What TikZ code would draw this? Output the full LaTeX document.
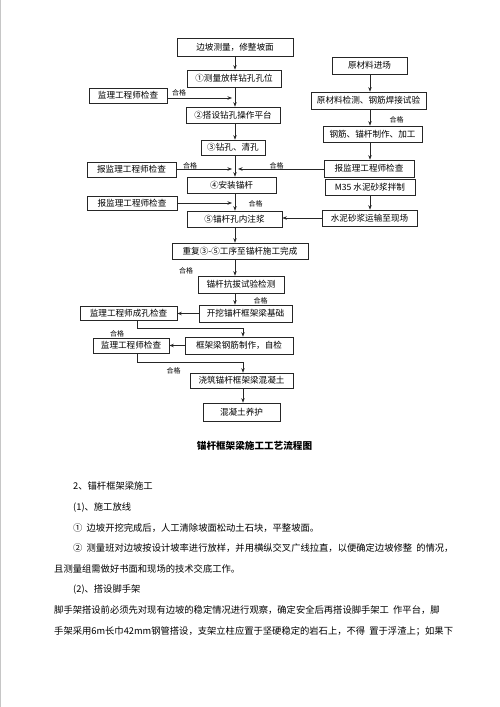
\documentclass[tikz,border=0pt]{standalone}
\usepackage{fontspec}
\setmainfont{Noto Sans CJK SC}
\usetikzlibrary{arrows.meta}
\usetikzlibrary{calc}

\begin{document}
\begin{tikzpicture}[x=1pt,y=-1pt]
        \useasboundingbox (0,0) rectangle (500,707);
        \draw[gray!45,line width=1pt] (0.5,0) -- (0.5,707);

        % flow chart boxes
        \begin{scope}[every node/.style={draw=black!85,line width=0.7pt,inner sep=0pt,
                minimum height=16pt,font=\fontsize{8.6}{10}\selectfont}]
            \node[minimum width=116pt,minimum height=18pt] (b0) at (235,47) {边坡测量，修整坡面};
            \node[minimum width=94pt,minimum height=17pt] (b1) at (234,78.5) {①测量放样钻孔孔位};
            \node[minimum width=78pt,minimum height=15pt] (c1) at (128,95.5) {监理工程师检查};
            \node[minimum width=94pt] (b2) at (233,115) {②搭设钻孔操作平台};
            \node[minimum width=64pt,minimum height=15pt] (b3) at (233,147.5) {③钻孔、清孔};
            \node[minimum width=75pt,minimum height=17pt] (r0) at (369.5,65.5) {原材料进场};
            \node[minimum width=115pt,minimum height=17pt] (r1) at (368.5,100.5) {原材料检测、钢筋焊接试验};
            \node[minimum width=99pt] (r2) at (372.5,134) {钢筋、锚杆制作、加工};
            \node[minimum width=90pt,minimum height=17pt] (r3) at (369,168.5) {报监理工程师检查};
            \node[minimum width=90pt] (r4) at (370,187) {M35 水泥砂浆拌制};
            \node[minimum width=95pt] (r5) at (369.5,218) {水泥砂浆运输至现场};
            \node[minimum width=89pt,minimum height=15pt] (c2) at (131.5,169.5) {报监理工程师检查};
            \node[minimum width=89pt] (b4) at (231.5,185) {④安装锚杆};
            \node[minimum width=90pt,minimum height=14pt] (c3) at (132,203.5) {报监理工程师检查};
            \node[minimum width=95pt] (b5) at (234.5,219) {⑤锚杆孔内注浆};
            \node[minimum width=136pt] (b6) at (240,251) {重复③-⑤工序至锚杆施工完成};
            \node[minimum width=86pt,minimum height=17pt] (b7) at (241,284.5) {锚杆抗拔试验检测};
            \node[minimum width=93pt,minimum height=17pt] (b8) at (245.5,313.5) {开挖锚杆框架梁基础};
            \node[minimum width=97pt,minimum height=14pt] (c4) at (128.5,313.5) {监理工程师成孔检查};
            \node[minimum width=108pt,minimum height=17pt] (b9) at (239,345.5) {框架梁钢筋制作，自检};
            \node[minimum width=76pt,minimum height=15pt] (c5) at (131,345.5) {监理工程师检查};
            \node[minimum width=103pt,minimum height=15pt] (b10) at (241.5,380.5) {浇筑锚杆框架梁混凝土};
            \node[minimum width=77pt,minimum height=18pt] (b11) at (241.5,412) {混凝土养护};
        \end{scope}

        \coordinate (ax) at (235,0);
        \coordinate (axr) at (370,0);
        \coordinate (ax2) at (243,0);
        \coordinate (j1) at (232,98);
        \coordinate (j2l) at (232,169);
        \coordinate (j2r) at (238,169);
        \coordinate (j3) at (232,203);
        \coordinate (k1) at (137,328);
        \coordinate (k2) at (137,362);

        % connectors
        \begin{scope}[>={Stealth[length=4.5pt,width=3.5pt]},line width=0.7pt,draw=black!85]
            \draw[->] (b0.south -| ax) -- (b1.north -| ax);
            \draw[->] (b1.south -| ax) -- (b2.north -| ax);
            \draw[->] (c1.east |- j1) -- (j1);
            \draw[->] (b2.south -| ax) -- (b3.north -| ax);
            \draw[->] (b3.south -| ax) -- (b4.north -| ax);
            \draw[->] (c2.east |- j2l) -- (j2l);
            \draw[->] (r3.west |- j2r) -- (j2r);
            \draw[->] (b4.south -| ax) -- (b5.north -| ax);
            \draw[->] (c3.east |- j3) -- (j3);
            \draw[->] (r0.south -| axr) -- (r1.north -| axr);
            \draw[->] (r1.south -| axr) -- (r2.north -| axr);
            \draw[->] (r2.south -| axr) -- (r3.north -| axr);
            \draw[->] (r4.south -| axr) -- (r5.north -| axr);
            \draw[->] (r5.west) -- (b5.east |- r5.west);
            \draw[->] (b5.south -| ax) -- (b6.north -| ax);
            \draw[->] (b6.south -| ax) -- (b7.north -| ax);
            \draw[->] (b7.south -| ax) -- (b8.north -| ax);
            \draw[->] (b8) -- (c4);
            \draw[->] (c4.south -| k1) -- (k1) -| (b9.north -| ax2);
            \draw[->] (b9) -- (c5);
            \draw[->] (c5.south -| k2) -- (k2) -| (b10.north -| ax2);
            \draw[->] (b10.south -| ax2) -- (b11.north -| ax2);
        \end{scope}

        % labels
        \begin{scope}[every node/.style={font=\fontsize{7}{8}\selectfont,inner sep=0pt}]
            \node (q1) at (179,93) {合格};
            \node (q2) at (396.5,119.5) {合格};
            \node (q3) at (190,165.5) {合格};
            \node (q4) at (276.5,165.5) {合格};
            \node (q5) at (255.5,204) {合格};
            \node (q6) at (186,271) {合格};
            \node (q7) at (260.5,301) {合格};
            \node (q8) at (117,333.5) {合格};
            \node (q9) at (173.5,371) {合格};
        \end{scope}

        \node[font=\fontsize{9.6}{11}\selectfont\bfseries] (title) at (254.5,446) {锚杆框架梁施工工艺流程图};

        % text below
        \begin{scope}[every node/.style={anchor=west,inner sep=0pt,font=\fontsize{9.3}{11}\selectfont}]
            \node (p1) at (73,486) {2、锚杆框架梁施工};
            \node (p2) at (73,507) {(1)、施工放线};
            \node (p3) at (73,528) {①\ \ 边坡开挖完成后，人工清除坡面松动土石块，平整坡面。};
            \node (p4) at (73,548) {②\ \ 测量班对边坡按设计坡率进行放样，并用横纵交叉广线拉直，以便确定边坡修整\ \ 的情况，};
            \node (p5) at (54,569) {且测量组需做好书面和现场的技术交底工作。};
            \node (p6) at (73,590) {(2)、搭设脚手架};
            \node (p7) at (54,610) {脚手架搭设前必须先对现有边坡的稳定情况进行观察，确定安全后再搭设脚手架工\ \ 作平台，脚};
            \node (p8) at (54,631) {手架采用6m长巾42mm钢管搭设，支架立柱应置于坚硬稳定的岩石上，不得\ \ 置于浮渣上；如果下};
        \end{scope}
    \end{tikzpicture}
\end{document}
